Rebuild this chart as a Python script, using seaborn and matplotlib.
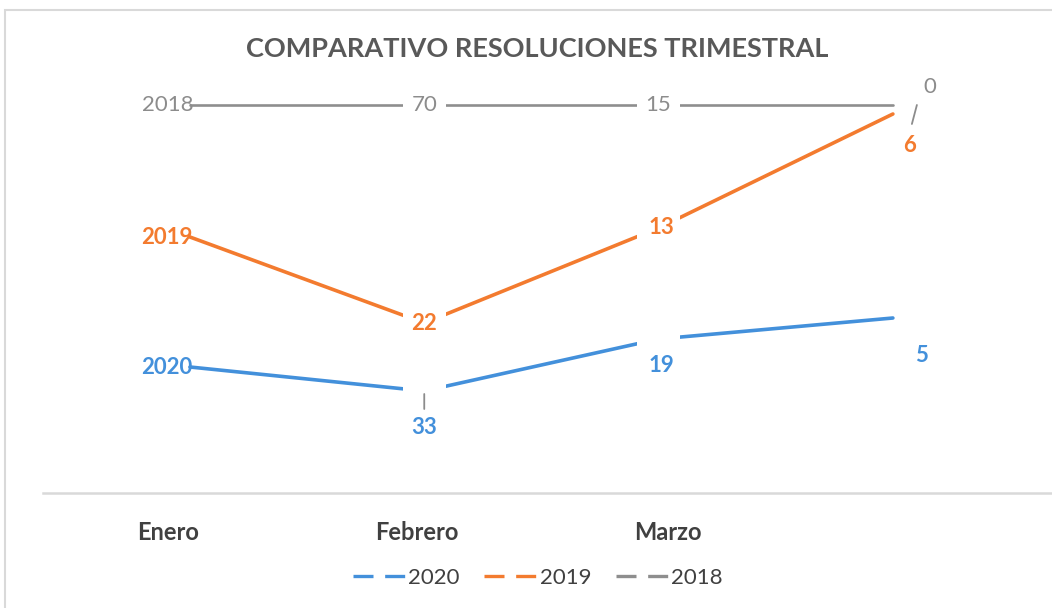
import matplotlib
matplotlib.use("Agg")
import matplotlib.pyplot as plt
import seaborn as sns
from matplotlib.lines import Line2D
from matplotlib.patches import Rectangle
from matplotlib.transforms import offset_copy, ScaledTranslation

# ----------------------------------------------------------------------
# data (heights, labels as printed in the chart)
# ----------------------------------------------------------------------
MESES = ["Enero", "Febrero", "Marzo", ""]
SERIES = ["2020", "2019", "2018"]

VAL_2020 = [31.5, 25.5, 38.5, 43.75]
VAL_2019 = [64.0, 42.5, 66.25, 94.75]
VAL_2018 = [97.0, 97.0, 97.0, 97.0]

ETQ_2020 = ["2020", "33", "19", "5"]
ETQ_2019 = ["2019", "22", "13", "6"]
ETQ_2018 = ["2018", "70", "15", "0"]

COLORES = {"2020": "#4390DB", "2019": "#F37B2F", "2018": "#8E8E8E"}

# label offsets in pixels (dx, dy) for each point
OFF_2020 = [(-23, 0), (0, -37), (3, -27), (29, -38)]
OFF_2019 = [(-23, 0), (0, 0), (3, 0), (17, -31)]
OFF_2018 = [(-22, 0), (0, 0), (0, 0), (37, 18)]

# month labels sit a little off the points in the original
TICK_SHIFT = [-22, -7, 9, 0]

valores = {"2020": VAL_2020, "2019": VAL_2019, "2018": VAL_2018}
etiquetas = {"2020": ETQ_2020, "2019": ETQ_2019, "2018": ETQ_2018}
offsets = {"2020": OFF_2020, "2019": OFF_2019, "2018": OFF_2018}

# ----------------------------------------------------------------------
# figure
# ----------------------------------------------------------------------
sns.set_style("white")
plt.rcParams["font.family"] = ["Lato", "DejaVu Sans"]

fig = plt.figure(figsize=(10.52, 6.08), dpi=100)
ax = fig.add_axes([43 / 1052, 115 / 608, 1009 / 1052, 423 / 608])

x = list(range(len(MESES)))
for i, s in enumerate(SERIES):
    z = 3 + i
    sns.lineplot(x=x, y=valores[s], color=COLORES[s],
                 lw=1.9 if s == "2018" else 2.6, ax=ax, zorder=z)
    # white masks around the middle points (gaps in the lines)
    ax.scatter(x[1:3], valores[s][1:3], marker="s", s=950, color="white",
               edgecolors="none", zorder=z + 0.5)

for s in SERIES:
    for xi, v, t, (dx, dy) in zip(x, valores[s], etiquetas[s], offsets[s]):
        bold = s != "2018"
        ax.annotate(t, xy=(xi, v), xytext=(dx, dy), textcoords="offset pixels",
                    ha="center", va="center", fontsize=16,
                    fontweight="bold" if bold else "normal",
                    color=COLORES[s] if bold else "#8C8C8C", zorder=20)

# leader lines
def leader(xi, v, p0, p1):
    t0 = offset_copy(ax.transData, fig=fig, x=p0[0], y=p0[1], units="dots")
    t1 = offset_copy(ax.transData, fig=fig, x=p1[0], y=p1[1], units="dots")
    ax.annotate("", xy=(xi, v), xycoords=t1, xytext=(xi, v), textcoords=t0,
                arrowprops=dict(arrowstyle="-", color="#8C8C8C", lw=1.3,
                                shrinkA=0, shrinkB=0), zorder=21)

leader(1, VAL_2020[1], (0, -3), (0, -18))
leader(3, VAL_2018[3], (19, -19), (24, 0))

ax.set_xlim(-0.627, 3.679)
ax.set_ylim(0, 105.75)
ax.set_xticks(x)
ax.set_xticklabels(MESES, fontsize=17, fontweight="bold", color="#404040")
ax.tick_params(axis="x", length=0, pad=20)
for lab, sh in zip(ax.get_xticklabels(), TICK_SHIFT):
    lab.set_transform(lab.get_transform() +
                      ScaledTranslation(sh / 100, 0, fig.dpi_scale_trans))
ax.set_yticks([])
ax.set_xlabel("")
ax.set_ylabel("")
for side in ["top", "right", "left"]:
    ax.spines[side].set_visible(False)
ax.spines["bottom"].set_color("#D9D9D9")
ax.spines["bottom"].set_linewidth(1.8)

fig.text(537 / 1052, 1 - 49 / 608, "COMPARATIVO RESOLUCIONES TRIMESTRAL",
         ha="center", va="center", fontsize=19.5, fontweight="bold",
         color="#595959")

handles = [Line2D([0], [0], color=COLORES[s], lw=2.4, dashes=(6, 3.5))
           for s in SERIES]
fig.legend(handles, SERIES, loc="center", ncol=3, frameon=False,
           bbox_to_anchor=(538 / 1052, 1 - 578 / 608), fontsize=16,
           handlelength=2.4, handletextpad=0.1, columnspacing=1.1,
           labelcolor="#404040")

# outer chart border
fig.add_artist(Rectangle((5 / 1052, -0.05), 1.2, 1.05 - 10 / 608,
                         transform=fig.transFigure, fill=False,
                         edgecolor="#D9D9D9", lw=1.5))

fig.savefig("out.png", dpi=100)
